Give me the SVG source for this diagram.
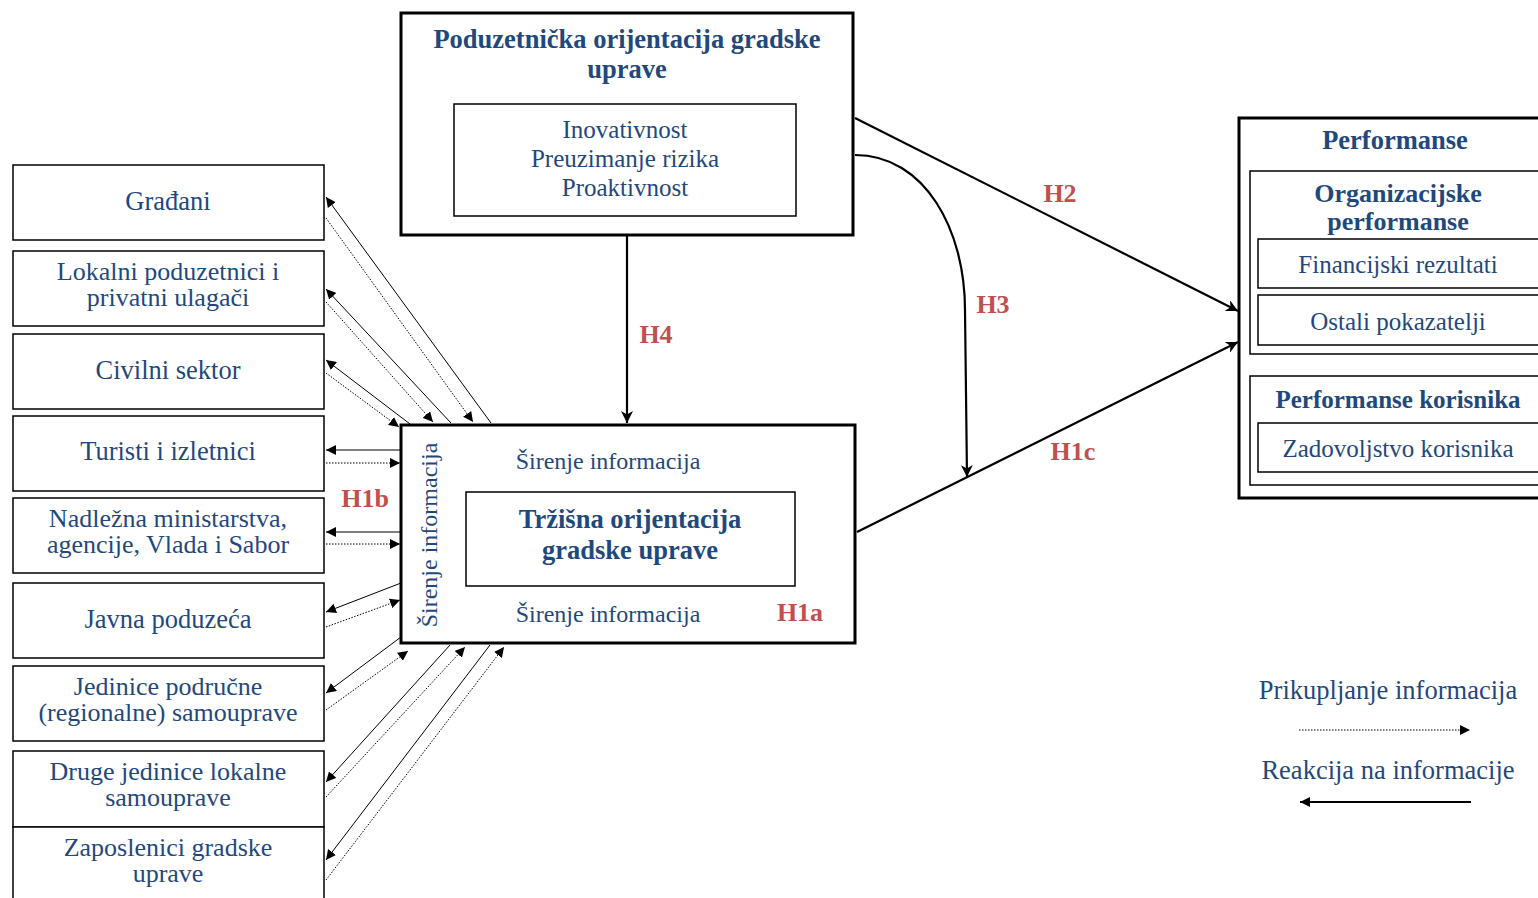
<svg xmlns="http://www.w3.org/2000/svg" width="1538" height="898" viewBox="0 0 1538 898">
<defs>
<marker id="ah" viewBox="0 0 10 10" refX="10" refY="5" markerWidth="10" markerHeight="10" markerUnits="userSpaceOnUse" orient="auto"><path d="M0,0 L10,5 L0,10 z" fill="#000"/></marker>
<marker id="ahb" viewBox="0 0 10 10" refX="10" refY="5" markerWidth="12" markerHeight="12" markerUnits="userSpaceOnUse" orient="auto"><path d="M0,0 L10,5 L0,10 L3,5 z" fill="#000"/></marker>
</defs>
<style>
text{font-family:"Liberation Serif","Times New Roman",serif;fill:#1f497d;text-anchor:middle}
.t{font-size:26.5px}
.m{font-size:26px}
.l{font-size:25px}
.s{font-size:24px}
.b{font-weight:bold}
.h{font-weight:bold;fill:#c0504d;font-size:26px}
.box{fill:#fff;stroke:#000;stroke-width:1.5}
.big{fill:#fff;stroke:#000;stroke-width:3}
.sol{stroke:#000;stroke-width:1;fill:none}
.dot{stroke:#000;stroke-width:1;stroke-dasharray:1.5 1.5;fill:none}
.thick{stroke:#000;stroke-width:2.2;fill:none}
</style>
<rect width="1538" height="898" fill="#fff"/>
<g id="stakeholders">
<g id="n-gradjani"><rect class="box" x="13" y="165" width="311" height="75"/><text class="t" x="168" y="210">Građani</text></g>
<g id="n-lokalni"><rect class="box" x="13" y="251" width="311" height="75"/><text class="m" x="168" y="280">Lokalni poduzetnici i</text><text class="m" x="168" y="306">privatni ulagači</text></g>
<g id="n-civilni"><rect class="box" x="13" y="334" width="311" height="75"/><text class="t" x="168" y="379">Civilni sektor</text></g>
<g id="n-turisti"><rect class="box" x="13" y="416" width="311" height="75"/><text class="t" x="168" y="460">Turisti i izletnici</text></g>
<g id="n-ministarstva"><rect class="box" x="13" y="498" width="311" height="75"/><text class="m" x="168" y="527">Nadležna ministarstva,</text><text class="m" x="168" y="553">agencije, Vlada i Sabor</text></g>
<g id="n-javna"><rect class="box" x="13" y="583" width="311" height="75"/><text class="t" x="168" y="628">Javna poduzeća</text></g>
<g id="n-jedinice"><rect class="box" x="13" y="666" width="311" height="75"/><text class="m" x="168" y="695">Jedinice područne</text><text class="m" x="168" y="721">(regionalne) samouprave</text></g>
<g id="n-druge"><rect class="box" x="13" y="751" width="311" height="76"/><text class="m" x="168" y="780">Druge jedinice lokalne</text><text class="m" x="168" y="806">samouprave</text></g>
<g id="n-zaposlenici"><rect class="box" x="13" y="827" width="311" height="80"/><text class="m" x="168" y="856">Zaposlenici gradske</text><text class="m" x="168" y="882">uprave</text></g>
</g>
<g id="n-poduzetnicka">
<rect class="big" x="401" y="13" width="452" height="222"/>
<text class="t b" x="627" y="48">Poduzetnička orijentacija gradske</text>
<text class="t b" x="627" y="78">uprave</text>
<rect class="box" x="454" y="104" width="342" height="112"/>
<text class="l" x="625" y="138">Inovativnost</text>
<text class="l" x="625" y="167">Preuzimanje rizika</text>
<text class="l" x="625" y="196">Proaktivnost</text>
</g>
<g id="n-trzisna">
<rect class="big" x="401" y="425" width="454" height="218"/>
<text class="s" x="608" y="469">Širenje informacija</text>
<text class="s" x="608" y="622">Širenje informacija</text>
<text class="s" transform="translate(437,535) rotate(-90)">Širenje informacija</text>
<rect class="box" x="466" y="492" width="329" height="94"/>
<text class="t b" x="630" y="528">Tržišna orijentacija</text>
<text class="t b" x="630" y="559">gradske uprave</text>
</g>
<g id="n-performanse">
<rect class="big" x="1239" y="118" width="320" height="380"/>
<text class="t b" x="1395" y="149">Performanse</text>
<rect class="box" x="1250" y="171" width="310" height="183"/>
<text class="m b" x="1398" y="202">Organizacijske</text>
<text class="m b" x="1398" y="230">performanse</text>
<rect class="box" x="1258" y="239" width="300" height="49"/>
<text class="l" x="1398" y="273">Financijski rezultati</text>
<rect class="box" x="1258" y="295" width="300" height="50"/>
<text class="l" x="1398" y="330">Ostali pokazatelji</text>
<rect class="box" x="1250" y="376" width="310" height="109"/>
<text class="l b" x="1398" y="408">Performanse korisnika</text>
<rect class="box" x="1258" y="423" width="300" height="49"/>
<text class="l" x="1398" y="457">Zadovoljstvo korisnika</text>
</g>
<g id="connectors">
<line class="thick" x1="627" y1="236" x2="627" y2="423" marker-end="url(#ahb)"/>
<line class="thick" x1="855" y1="118" x2="1238" y2="311" marker-end="url(#ahb)"/>
<path class="thick" d="M855,155 C925,155 965,230 965,310 L967,477" marker-end="url(#ahb)"/>
<line class="thick" x1="857" y1="532" x2="1238" y2="342" marker-end="url(#ahb)"/>
<line class="sol" x1="491" y1="423" x2="326" y2="197" marker-end="url(#ah)"/>
<line class="dot" x1="326" y1="218" x2="473" y2="422" marker-end="url(#ah)"/>
<line class="sol" x1="451" y1="423" x2="326" y2="289" marker-end="url(#ah)"/>
<line class="dot" x1="326" y1="302" x2="433" y2="422" marker-end="url(#ah)"/>
<line class="sol" x1="410" y1="424" x2="326" y2="360" marker-end="url(#ah)"/>
<line class="dot" x1="326" y1="373" x2="399" y2="427" marker-end="url(#ah)"/>
<line class="sol" x1="401" y1="450" x2="326" y2="450" marker-end="url(#ah)"/>
<line class="dot" x1="326" y1="463" x2="400" y2="463" marker-end="url(#ah)"/>
<line class="sol" x1="401" y1="532" x2="326" y2="532" marker-end="url(#ah)"/>
<line class="dot" x1="326" y1="544" x2="400" y2="544" marker-end="url(#ah)"/>
<line class="sol" x1="401" y1="583" x2="326" y2="612" marker-end="url(#ah)"/>
<line class="dot" x1="326" y1="627" x2="400" y2="600" marker-end="url(#ah)"/>
<line class="sol" x1="401" y1="637" x2="326" y2="693" marker-end="url(#ah)"/>
<line class="dot" x1="326" y1="710" x2="408" y2="651" marker-end="url(#ah)"/>
<line class="sol" x1="450" y1="645" x2="326" y2="782" marker-end="url(#ah)"/>
<line class="dot" x1="326" y1="797" x2="465" y2="647" marker-end="url(#ah)"/>
<line class="sol" x1="490" y1="645" x2="326" y2="860" marker-end="url(#ah)"/>
<line class="dot" x1="326" y1="880" x2="504" y2="647" marker-end="url(#ah)"/>
</g>
<g id="labels">
<text class="h" x="656" y="343">H4</text>
<text class="h" x="1060" y="202">H2</text>
<text class="h" x="993" y="313">H3</text>
<text class="h" x="1073" y="460">H1c</text>
<text class="h" x="365" y="507">H1b</text>
<text class="h" x="800" y="621">H1a</text>
</g>
<g id="legend">
<text class="t" x="1388" y="699">Prikupljanje informacija</text>
<line class="dot" x1="1299" y1="730" x2="1470" y2="730" marker-end="url(#ah)"/>
<text class="t" x="1388" y="779">Reakcija na informacije</text>
<line x1="1471" y1="802" x2="1300" y2="802" stroke="#000" stroke-width="2" marker-end="url(#ah)"/>
</g>
</svg>
